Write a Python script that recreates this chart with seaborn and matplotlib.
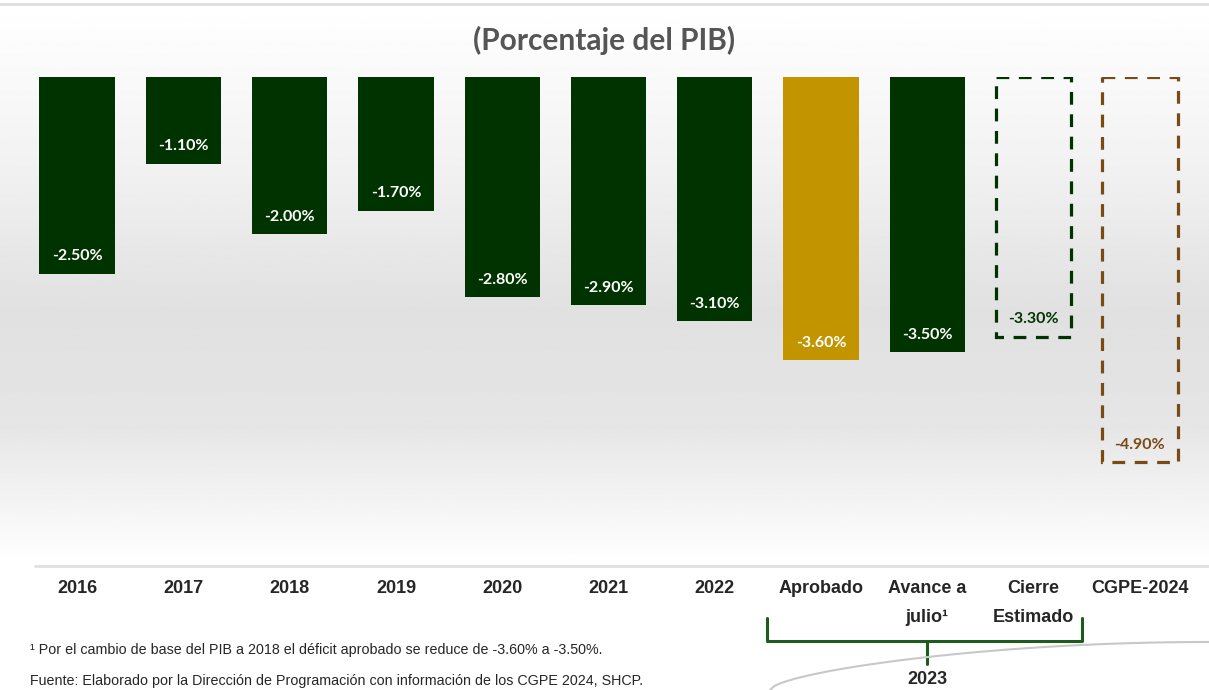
import numpy as np
import matplotlib.pyplot as plt
import seaborn as sns

categories = ['2016', '2017', '2018', '2019', '2020', '2021', '2022',
              'Aprobado', 'Avance a\njulio¹', 'Cierre\nEstimado', 'CGPE-2024']
values = [-2.5, -1.1, -2.0, -1.7, -2.8, -2.9, -3.1, -3.6, -3.5, -3.3, -4.9]
labels = ['-2.50%', '-1.10%', '-2.00%', '-1.70%', '-2.80%', '-2.90%', '-3.10%',
          '-3.60%', '-3.50%', '-3.30%', '-4.90%']

GREEN = '#003300'
GOLD = '#C29500'
BROWN = '#7A4A14'
colors = [GREEN] * 7 + [GOLD, GREEN, 'none', 'none']
edge = [None] * 9 + [GREEN, BROWN]

sns.set_style('white')
plt.rcParams['font.family'] = ['Lato', 'DejaVu Sans']

fig = plt.figure(figsize=(12.09, 6.9), dpi=100)

# gradient background
bg = fig.add_axes([0, 1 - 565 / 690, 1, 560 / 690], zorder=0)
t = np.linspace(0, 1, 300)
g = np.interp(t, [0, 0.25, 0.55, 0.75, 1.0], [1.0, 0.955, 0.88, 0.90, 1.0])
bg.imshow(np.tile(g[:, None], (1, 10)), cmap='gray', vmin=0, vmax=1,
          aspect='auto', extent=[0, 1, 0, 1], origin='upper')
bg.axis('off')

ax = fig.add_axes([24 / 1209, 1 - 560 / 690, 1169 / 1209, 483 / 690], zorder=1)
ax.patch.set_alpha(0)
sns.barplot(x=categories, y=values, hue=categories, palette=colors,
            legend=False, width=0.71, ax=ax, saturation=1, linewidth=0)
ax.set_ylim(-6.14, 0)
ax.set_xlim(-0.5, len(categories) - 0.5)

for i, p in enumerate(ax.patches):
    if edge[i] is not None:
        p.set_facecolor('none')
        p.set_edgecolor(edge[i])
        p.set_linewidth(2.3)
        p.set_linestyle((0, (4, 3)))
        tc = edge[i]
    else:
        p.set_edgecolor('none')
        tc = 'white'
    ax.text(i, values[i] + 0.22, labels[i], ha='center', va='center',
            color=tc, fontsize=11.5, fontweight='bold', zorder=5)

ax.set_xticks([])
ax.set_yticks([])
ax.set_xlabel('')
ax.set_ylabel('')
sns.despine(ax=ax, left=True, bottom=True)

# category labels under the chart
narrow = ['Liberation Sans Narrow', 'Liberation Sans', 'DejaVu Sans']
for i, c in enumerate(categories):
    xf = (24 + (i + 0.5) * 1169 / 11) / 1209
    fig.text(xf, 1 - 580 / 690, c, ha='center', va='top', fontsize=13,
             fontweight='bold', family=narrow, linespacing=1.95)

# top rule and bottom rule
fig.add_artist(plt.Line2D([0, 1], [1 - 4 / 690] * 2, color='#dddddd', lw=2))
fig.add_artist(plt.Line2D([35 / 1209, 1], [1 - 566 / 690] * 2, color='#e0e0e0', lw=2))

# brace for 2023
bx0, bx1, bxm = 767 / 1209, 1082 / 1209, 927 / 1209
ytop, ymid, ylow = 1 - 618 / 690, 1 - 641 / 690, 1 - 664 / 690
fig.add_artist(plt.Line2D([bx0, bx0, bx1, bx1], [ytop, ymid, ymid, ytop],
                          color='#1f5a1f', lw=2.2, solid_joinstyle='round'))
fig.add_artist(plt.Line2D([bxm, bxm], [ymid, ylow], color='#1f5a1f', lw=2.2))
fig.text(bxm, 1 - 679 / 690, '2023', ha='center', va='center', fontsize=13,
         fontweight='bold', family=narrow)

# decorative arc
th = np.linspace(0, 1, 100)
ax_x = (770 + 439 * th) / 1209
ax_y = (1 - (690 - 48 * np.sin(th * np.pi / 2) ** 0.6) / 690)
fig.add_artist(plt.Line2D(ax_x, ax_y, color='#c8c8c8', lw=1.5))

fig.text(0.5, 1 - 40 / 690, '(Porcentaje del PIB)', ha='center', va='center',
         fontsize=21.5, fontweight='bold', color='#555555')

fig.text(30 / 1209, 1 - 650 / 690, '¹ Por el cambio de base del PIB a 2018 el déficit aprobado se reduce de -3.60% a -3.50%.',
         ha='left', va='center', fontsize=10.3, family=narrow)
fig.text(30 / 1209, 1 - 681 / 690, 'Fuente: Elaborado por la Dirección de Programación con información de los CGPE 2024, SHCP.',
         ha='left', va='center', fontsize=10.3, family=narrow)

fig.savefig('out.png', dpi=100)
